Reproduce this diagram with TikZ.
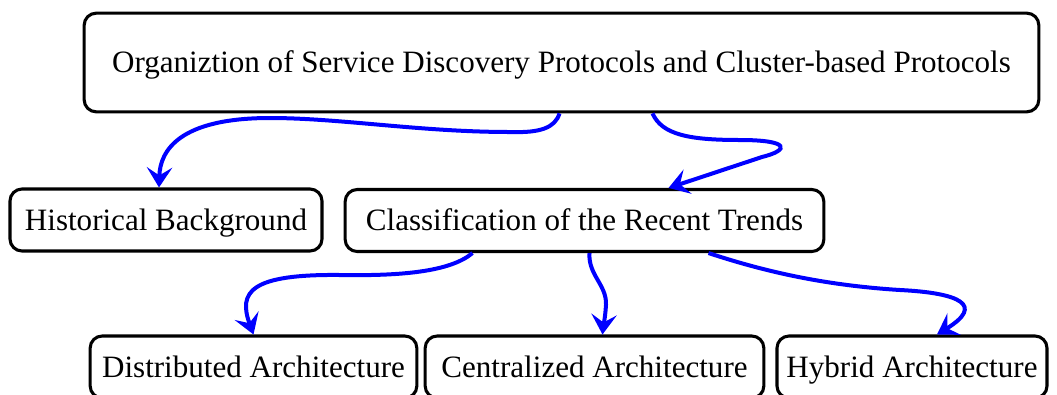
\documentclass[tikz,border=0pt]{standalone}
\usepackage{fontspec}
\setmainfont{Liberation Serif}
\usetikzlibrary{arrows.meta,calc}
\tikzset{
  box/.style={draw=black, line width=2.3pt, rounded corners=9pt, fill=white,
    inner sep=0pt, text height=15.4pt, text depth=0pt,
    font=\fontsize{23.3}{26}\selectfont},
  link/.style={draw=blue, line width=3pt,
    -{Stealth[length=15pt, width=19pt, inset=6pt]}},
}
\begin{document}
\begin{tikzpicture}[x=0.75pt, y=-0.75pt]
  \clip (0,0) rectangle (1057,394);
  \useasboundingbox (0,0) rectangle (1057,394);

  % boxes
  \node[box, minimum width=716pt, minimum height=74pt] (top) at (561.5,62.5)
    {Organiztion of Service Discovery Protocols and Cluster-based Protocols};
  \node[box, minimum width=234pt, minimum height=46.5pt] (hist) at (166,220)
    {Historical Background};
  \node[box, minimum width=359pt, minimum height=46.5pt] (cls) at (584.5,220.5)
    {Classification of the Recent Trends};
  \node[box, minimum width=245pt, minimum height=46.5pt] (dist) at (253.5,367)
    {Distributed Architecture};
  \node[box, minimum width=254pt, minimum height=46.5pt] (cent) at (594.5,367)
    {Centralized Architecture};
  \node[box, minimum width=202.5pt, minimum height=46.5pt] (hyb) at (912,367)
    {Hybrid Architecture};

  % connectors
  \draw[link] ($(top.south)+(-2,0)$)
    .. controls (555,128) and (540,133) .. (510,132)
    .. controls (420,132) and (340,118) .. (270,118)
    .. controls (180,118) and (160,150) .. ($(hist.north)+(-7,0)$);
  \draw[link] ($(top.south)+(91,0)$)
    .. controls (662,135) and (690,140) .. (740,140)
    .. controls (790,140) and (790,150) .. (762,157)
    -- ($(cls.north)+(84,0)$);
  \draw[link] ($(cls.south)+(-112,0)$)
    .. controls (450,272) and (400,276) .. (340,275)
    .. controls (250,274) and (238,292) .. ($(dist.north)+(0,0)$);
  \draw[link] ($(cls.south)+(5,0)$)
    .. controls (588,275) and (607,285) .. (606,305)
    .. controls (605,320) and (603,328) .. ($(cent.north)+(8,0)$);
  \draw[link] ($(cls.south)+(124,0)$)
    .. controls (760,270) and (820,285) .. (900,290)
    .. controls (960,293) and (985,305) .. ($(hyb.north)+(25,0)$);
\end{tikzpicture}
\end{document}
